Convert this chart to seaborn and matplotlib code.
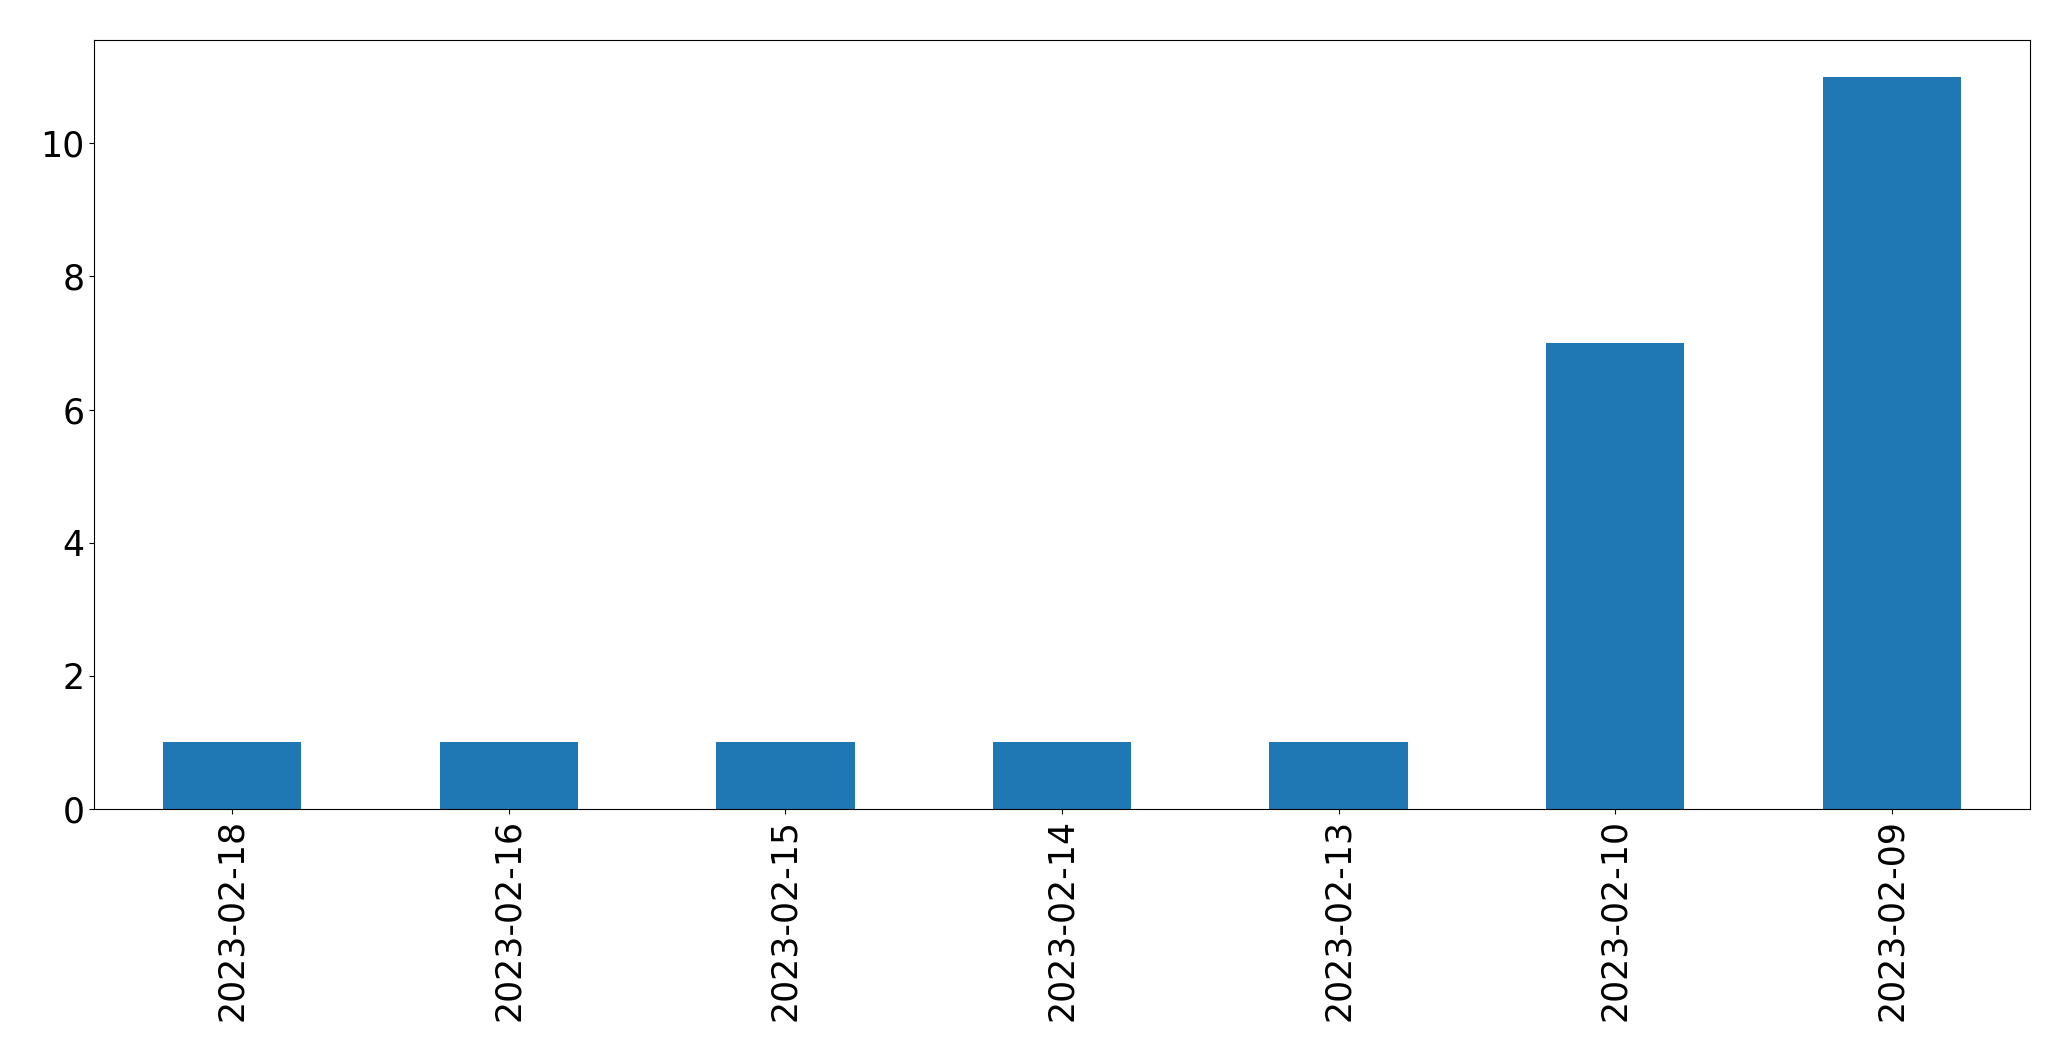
import matplotlib
matplotlib.use("Agg")
import matplotlib.pyplot as plt
import seaborn as sns
import pandas as pd

# data
dates = ["2023-02-18", "2023-02-16", "2023-02-15", "2023-02-14", "2023-02-13", "2023-02-10", "2023-02-09"]
counts = [1, 1, 1, 1, 1, 7, 11]

df = pd.DataFrame({"date": dates, "count": counts})

fig, ax = plt.subplots(figsize=(20.71, 10.61), dpi=100)
fig.subplots_adjust(left=94/2071, right=2030/2071, top=1-40/1061, bottom=1-809/1061)

sns.barplot(data=df, x="date", y="count", color="#1f77b4", saturation=1, width=0.5, ax=ax)

ax.set_xlim(-0.5, 6.5)
ax.set_ylim(0, 11.55)
ax.set_xlabel("")
ax.set_ylabel("")
ax.tick_params(axis="both", labelsize=25)
plt.setp(ax.get_xticklabels(), rotation=90)

fig.savefig("out.png", dpi=100)
